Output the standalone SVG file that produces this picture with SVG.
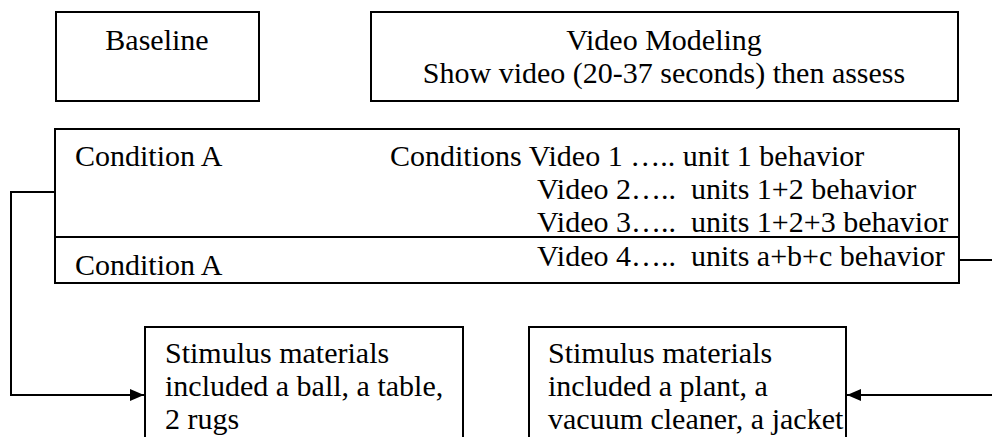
<svg xmlns="http://www.w3.org/2000/svg" width="992" height="437" viewBox="0 0 992 437" font-family="'Liberation Serif', 'Times New Roman', Tinos, 'DejaVu Serif', serif">
  <style>
    .box { fill: #ffffff; stroke: #000000; stroke-width: 2; }
    .line { fill: none; stroke: #000000; stroke-width: 2; }
    text { font-family: 'Liberation Serif', 'Times New Roman', Tinos, 'DejaVu Serif', serif; font-size: 30px; fill: #000000; white-space: pre; }
    .mid { text-anchor: middle; }
  </style>
  <defs>
    <marker id="arrow" viewBox="0 0 14 12" refX="14" refY="6" markerWidth="14" markerHeight="12" markerUnits="userSpaceOnUse" orient="auto">
      <path d="M0,0 L14,6 L0,12 Z" fill="#000000"/>
    </marker>
  </defs>
  <rect width="992" height="437" fill="#ffffff"/>

  <g id="baseline">
    <rect class="box" x="56" y="12" width="203" height="89"/>
    <text class="mid" x="157" y="50">Baseline</text>
  </g>

  <g id="video-modeling">
    <rect class="box" x="371" y="12" width="587" height="89"/>
    <text class="mid" x="664" y="50">Video Modeling</text>
    <text class="mid" x="664" y="83">Show video (20-37 seconds) then assess</text>
  </g>

  <g id="conditions">
    <rect class="box" x="55" y="129" width="904" height="154"/>
    <line class="line" x1="55" y1="237" x2="959" y2="237"/>
    <text x="75" y="166">Condition A</text>
    <text x="390" y="166">Conditions Video 1 ….. unit 1 behavior</text>
    <text x="537" y="199">Video 2…..  units 1+2 behavior</text>
    <text x="537" y="232">Video 3…..  units 1+2+3 behavior</text>
    <text x="537" y="266">Video 4…..  units a+b+c behavior</text>
    <text x="75" y="275">Condition A</text>
  </g>

  <g id="stimulus-1">
    <rect class="box" x="145" y="327" width="318" height="130"/>
    <text x="165" y="363">Stimulus materials</text>
    <text x="165" y="396">included a ball, a table,</text>
    <text x="165" y="429">2 rugs</text>
  </g>

  <g id="stimulus-2">
    <rect class="box" x="529" y="327" width="317" height="130"/>
    <text x="548" y="363">Stimulus materials</text>
    <text x="548" y="396">included a plant, a</text>
    <text x="548" y="429">vacuum cleaner, a jacket</text>
  </g>

  <g id="connectors">
    <polyline class="line" points="55,192 11,192 11,395 144,395" marker-end="url(#arrow)"/>
    <line class="line" x1="959" y1="260" x2="992" y2="260"/>
    <line class="line" x1="992" y1="395" x2="847" y2="395" marker-end="url(#arrow)"/>
  </g>
</svg>
